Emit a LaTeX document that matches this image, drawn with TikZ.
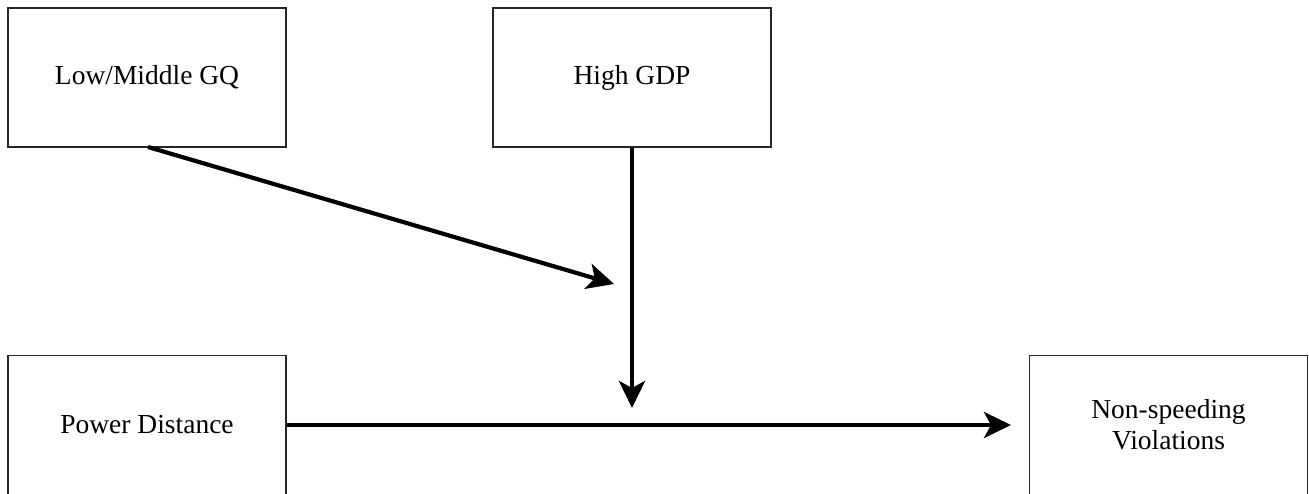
\documentclass[tikz,border=0pt]{standalone}
\usepackage{fontspec}
\setmainfont{Liberation Serif}
\usetikzlibrary{arrows.meta}
\begin{document}
\begin{tikzpicture}[x=1pt,y=-1pt,
  box/.style={draw=black!85, line width=1.5pt, minimum width=278pt, minimum height=139pt, inner sep=0pt, align=center, font=\fontsize{27.5}{31}\selectfont},
  conn/.style={line width=4.2pt, -{Stealth[length=27pt,width=26pt,inset=7pt]}}]
\useasboundingbox (0,0) rectangle (1309,493);
\node[box] (gq) at (147,77.5) {Low/Middle GQ};
\node[box] (gdp) at (632,77.5) {High GDP};
\node[box] (pd) at (147,425) {Power Distance};
\node[box] (nsv) at (1168.5,425) {Non-speeding\\Violations};
\coordinate (gqout) at (148,147);
\coordinate (tip1) at (614,284);
\coordinate (tip2) at (632,408);
\coordinate (tip3) at (1011,425);
\draw[conn] (gqout) -- (tip1);
\draw[conn] (gdp.south) -- (tip2);
\draw[conn] (pd.east) -- (tip3);
\end{tikzpicture}
\end{document}
